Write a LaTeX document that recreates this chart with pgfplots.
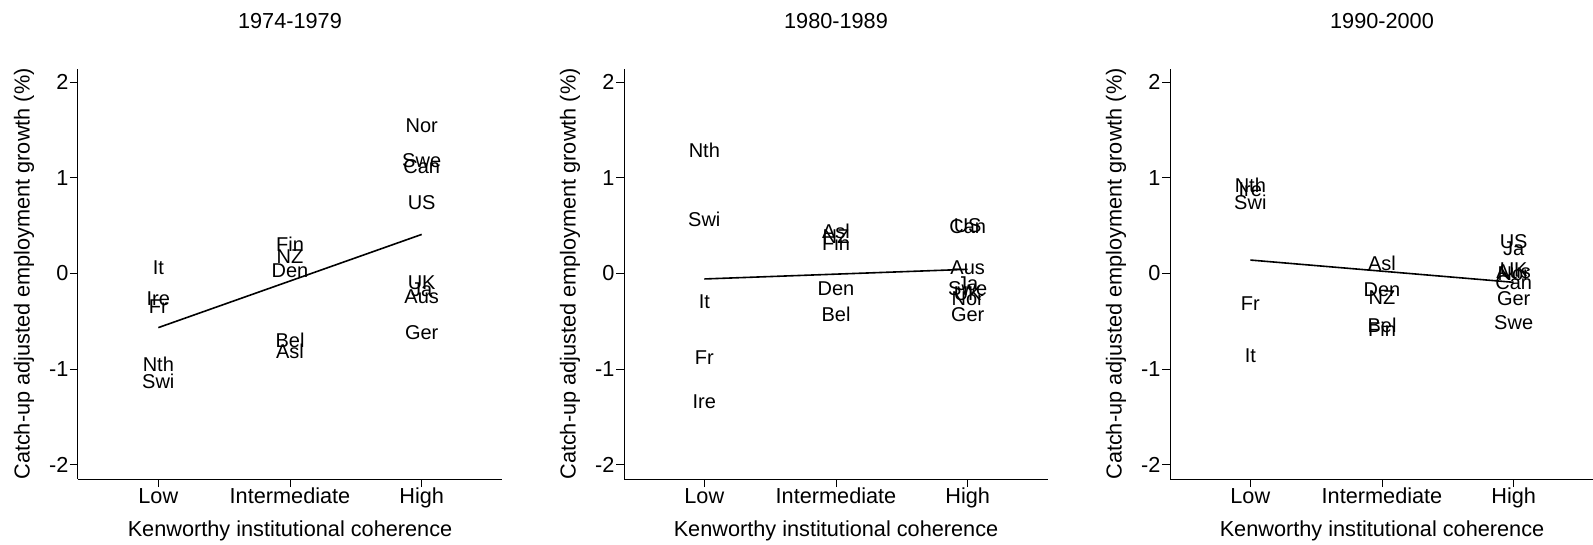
\documentclass[border=0pt]{standalone}
\usepackage{fontspec}
\setmainfont{Liberation Sans}
\usepackage{pgfplots}
\pgfplotsset{compat=1.18}
\newcommand{\lblfont}{\fontsize{21.7}{26}\selectfont}
\newcommand{\datfont}{\fontsize{20}{24}\selectfont}
\pgfplotsset{panel/.style={
  scale only axis, width=424pt, height=410pt,
  xmin=0.39, xmax=3.61, ymin=-2.15, ymax=2.14,
  axis x line*=bottom, axis y line*=left,
  axis line style={-, line width=1pt, black},
  xtick={1,2,3}, xticklabels={Low,Intermediate,High},
  ytick={-2,-1,0,1,2}, yticklabels={-2,-1,0,1,2},
  tick align=outside, major tick length=8pt,
  every tick/.style={black, line width=1pt},
  tick label style={font=\lblfont},
  xticklabel style={yshift=3pt, text height=16pt, text depth=5pt},
  yticklabel style={xshift=2pt},
  xlabel={Kenworthy institutional coherence},
  ylabel={Catch-up adjusted employment growth (\%)},
  every axis x label/.style={at={(axis description cs:0.5,-0.1268)}, anchor=center, font=\lblfont},
  every axis y label/.style={at={(axis description cs:-0.1274,0.5)}, anchor=center, rotate=90, font=\lblfont},
  every axis title/.style={at={(axis description cs:0.5,1.117)}, anchor=center, font=\lblfont},
  clip=false,
},
labs/.style={only marks, mark=none,
  nodes near coords, point meta=explicit symbolic,
  every node near coord/.append style={anchor=center, font=\datfont, inner sep=0pt}},
fit/.style={black, line width=1.6pt, mark=none}
}
\begin{document}
\begin{tikzpicture}
\path[use as bounding box] (0,0) rectangle (1593pt,-545pt);
\begin{axis}[panel, at={(78pt,-479pt)}, anchor=south west, title={1974-1979}]
\addplot[labs] table[meta=lab] {
x y lab
1 0.065 It
1 -0.26 Ire
1 -0.35 Fr
1 -0.945 Nth
1 -1.13 Swi
2 0.305 Fin
2 0.18 NZ
2 0.026 Den
2 -0.695 Bel
2 -0.81 Asl
3 1.55 Nor
3 1.185 Swe
3 1.12 Can
3 0.74 US
3 -0.10 UK
3 -0.17 Ja
3 -0.24 Aus
3 -0.615 Ger
};
\addplot[fit] coordinates {(1,-0.566) (3,0.409)};
\end{axis}
\begin{axis}[panel, at={(624pt,-479pt)}, anchor=south west, title={1980-1989}]
\addplot[labs] table[meta=lab] {
x y lab
1 1.29 Nth
1 0.57 Swi
1 -0.29 It
1 -0.88 Fr
1 -1.34 Ire
2 0.437 Asl
2 0.385 NZ
2 0.315 Fin
2 -0.155 Den
2 -0.426 Bel
3 0.50 US
3 0.49 Can
3 0.06 Aus
3 -0.11 Ja
3 -0.155 Swe
3 -0.21 UK
3 -0.26 Nor
3 -0.426 Ger
};
\addplot[fit] coordinates {(1,-0.057) (3,0.044)};
\end{axis}
\begin{axis}[panel, at={(1170pt,-479pt)}, anchor=south west, title={1990-2000}]
\addplot[labs] table[meta=lab] {
x y lab
1 0.924 Nth
1 0.88 Ire
1 0.74 Swi
1 -0.32 Fr
1 -0.86 It
2 0.107 Asl
2 -0.165 Den
2 -0.25 NZ
2 -0.54 Bel
2 -0.58 Fin
3 0.33 US
3 0.263 Ja
3 0.044 UK
3 0.019 Aus
3 0.002 Nor
3 -0.096 Can
3 -0.26 Ger
3 -0.51 Swe
};
\addplot[fit] coordinates {(1,0.141) (3,-0.092)};
\end{axis}
\end{tikzpicture}
\end{document}
